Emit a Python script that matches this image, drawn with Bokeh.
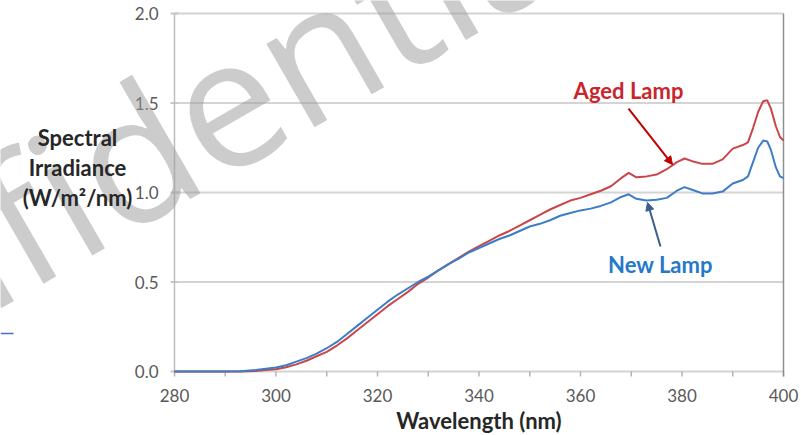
from bokeh.plotting import figure
from bokeh.models import Label, Arrow, NormalHead, Range1d
from bokeh.core.properties import value
from bokeh.embed import file_html
from bokeh.resources import INLINE

# ---- data ----
wavelength = [280, 285, 290, 293, 296, 298, 300, 302, 304, 306, 308, 310, 312, 314,
              316, 318, 320, 322, 324, 326, 328, 330, 332, 334, 336, 338, 340, 342,
              344, 346, 348, 350, 352, 354, 356, 358, 360, 362, 364, 366, 368, 369.5,
              371, 373, 375, 377, 379, 380.5, 382, 384, 386, 388, 390, 392, 393, 394,
              395, 396, 396.8, 397.5, 398.5, 399.3, 400]
new_lamp = [0, 0, 0, 0.002, 0.008, 0.015, 0.022, 0.035, 0.055, 0.075, 0.10, 0.13,
            0.165, 0.21, 0.255, 0.30, 0.345, 0.39, 0.43, 0.465, 0.50, 0.53, 0.565,
            0.60, 0.63, 0.665, 0.69, 0.715, 0.74, 0.76, 0.785, 0.81, 0.825, 0.845,
            0.87, 0.885, 0.90, 0.91, 0.925, 0.945, 0.975, 0.99, 0.965, 0.955, 0.96,
            0.97, 1.01, 1.03, 1.015, 0.995, 0.995, 1.005, 1.05, 1.07, 1.09, 1.17,
            1.25, 1.29, 1.285, 1.24, 1.14, 1.09, 1.08]
aged_lamp = [0, 0, 0, 0, 0.003, 0.008, 0.013, 0.024, 0.04, 0.06, 0.085, 0.11,
             0.145, 0.185, 0.23, 0.275, 0.32, 0.365, 0.405, 0.445, 0.49, 0.525, 0.565,
             0.60, 0.635, 0.67, 0.70, 0.73, 0.76, 0.785, 0.815, 0.845, 0.875, 0.905,
             0.93, 0.955, 0.97, 0.99, 1.01, 1.035, 1.08, 1.11, 1.085, 1.09, 1.10,
             1.13, 1.17, 1.19, 1.175, 1.16, 1.16, 1.185, 1.245, 1.265, 1.28, 1.36,
             1.45, 1.51, 1.515, 1.47, 1.37, 1.31, 1.29]
x_ticks = [280, 300, 320, 340, 360, 380, 400]
x_tick_labels = ["280", "300", "320", "340", "360", "380", "400"]
x_minor_ticks = [290, 310, 330, 350, 370, 390]
y_ticks = [0.0, 0.5, 1.0, 1.5, 2.0]
y_tick_labels = ["0.0", "0.5", "1.0", "1.5", "2.0"]
y_label_lines = ["Spectral", "Irradiance", "(W/m\u00b2/nm)"]
y_label_levels = [1.307, 1.140, 0.972]
x_title = "Wavelength (nm)"
series_names = ["Aged Lamp", "New Lamp"]
watermark = "Confidential"

FONT = "Lato"
PX_PER_NM = 609 / 120.0     # horizontal scale of the reference
PX_PER_UNIT = 179.0         # vertical scale of the reference

W, H = 800, 434
FRAME_LEFT, FRAME_RIGHT, ZERO_Y, TOP_Y = 174, 783, 371, 13
x_start = x_ticks[0] - FRAME_LEFT / PX_PER_NM
x_end = x_ticks[-1] + (W - FRAME_RIGHT) / PX_PER_NM
y_end = y_ticks[-1] + TOP_Y / PX_PER_UNIT
y_start = y_ticks[0] - (H - ZERO_Y) / PX_PER_UNIT

p = figure(width=W, height=H, output_backend="svg", toolbar_location=None,
           x_range=Range1d(x_start, x_end), y_range=Range1d(y_start, y_end),
           x_axis_location=None, y_axis_location=None,
           min_border_left=0, min_border_right=0, min_border_top=0,
           min_border_bottom=0)
p.outline_line_color = None
p.grid.visible = False
p.background_fill_color = "white"
p.border_fill_color = "white"

n = len(y_ticks)
all_x_ticks = x_ticks + x_minor_ticks
tick_len = 5 / PX_PER_UNIT

# horizontal grid lines (the 0.0 one doubles as the x axis line)
p.segment(x0=[x_ticks[0]] * n, x1=[x_ticks[-1]] * n, y0=y_ticks, y1=y_ticks,
          line_color="#d4d4d4", line_width=2)
# y tick marks
p.scatter(x=[x_ticks[0]] * n, y=y_ticks, marker="dash", size=8,
          line_color="#c8c8c8", line_width=2)
# x tick marks
p.segment(x0=all_x_ticks, x1=all_x_ticks, y0=[y_ticks[0]] * len(all_x_ticks),
          y1=[y_ticks[0] - tick_len] * len(all_x_ticks),
          line_color="#b4b4b4", line_width=1.5)
# y axis line and right border
p.segment(x0=[x_ticks[0]], x1=[x_ticks[0]], y0=[y_ticks[0]], y1=[y_ticks[-1]],
          line_color="#bdbdbd", line_width=1.5)
p.segment(x0=[x_ticks[-1]], x1=[x_ticks[-1]], y0=[y_ticks[0] - tick_len],
          y1=[y_ticks[-1]], line_color="#8f8f8f", line_width=1.5)

# tick labels
p.text(x=[x_ticks[0]] * n, y=y_ticks, text=y_tick_labels, x_offset=-16,
       text_align="right", text_baseline="middle", text_font=value(FONT),
       text_font_size="17px", text_color="#595959")
p.text(x=x_ticks, y=[y_ticks[0] - 24 / PX_PER_UNIT] * len(x_ticks), text=x_tick_labels,
       text_align="center", text_baseline="middle", text_font=value(FONT),
       text_font_size="17px", text_color="#595959")

# curves
p.line(wavelength, aged_lamp, line_color="#C9464A", line_width=2)
p.line(wavelength, new_lamp, line_color="#3D7DC6", line_width=2)

# watermark
p.add_layout(Label(x=187.35, y=-0.156, text=watermark, angle=30, angle_units="deg",
                   text_font="Open Sans", text_font_size="180px", text_color="#9a9a9a",
                   text_alpha=0.5, text_align="left", text_baseline="alphabetic"))

# axis titles
for txt, yv in zip(y_label_lines, y_label_levels):
    p.add_layout(Label(x=x_ticks[0], y=yv, x_offset=-97, text=txt, text_font=FONT,
                       text_font_style="bold", text_font_size="22px",
                       text_color="#262626", text_align="center",
                       text_baseline="middle"))
p.add_layout(Label(x=(x_ticks[0] + x_ticks[-1]) / 2, y=y_ticks[0] - 49 / PX_PER_UNIT,
                   text=x_title, text_font=FONT, text_font_style="bold",
                   text_font_size="22px", text_color="#262626",
                   text_align="center", text_baseline="middle"))

# series annotations
p.add_layout(Label(x=369.46, y=1.570, text=series_names[0], text_font=FONT,
                   text_font_style="bold", text_font_size="22px", text_color="#C8262C",
                   text_align="center", text_baseline="middle"))
p.add_layout(Label(x=375.76, y=0.598, text=series_names[1], text_font=FONT,
                   text_font_style="bold", text_font_size="22px", text_color="#2678C8",
                   text_align="center", text_baseline="middle"))
p.add_layout(Arrow(x_start=369.46, y_start=1.469, x_end=378.13, y_end=1.156,
                   line_color="#C00000", line_width=2,
                   end=NormalHead(size=8, fill_color="#C00000", line_color="#C00000")))
p.add_layout(Arrow(x_start=375.76, y_start=0.698, x_end=373.2, y_end=0.944,
                   line_color="#3B5E8C", line_width=2,
                   end=NormalHead(size=8, fill_color="#3B5E8C", line_color="#3B5E8C")))

# small stray blue stroke at the far left edge of the reference
p.segment(x0=[x_start], x1=[x_start + 13 / PX_PER_NM], y0=[0.2123], y1=[0.2123],
          line_color="#4472C4", line_width=1.5)

open("out.html", "w").write(file_html(p, INLINE))
